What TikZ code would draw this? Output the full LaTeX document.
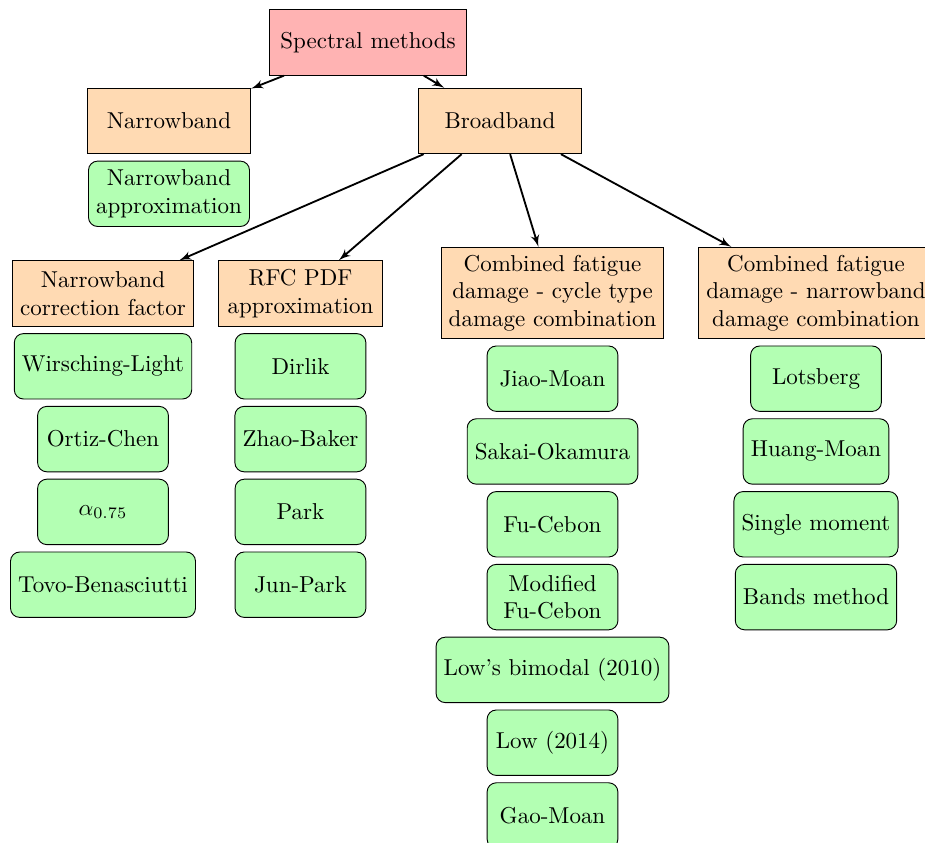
\documentclass[tikz,border=0pt]{standalone}
\usepackage{tikz}
\definecolor{rootred}{RGB}{255, 179, 179}
\definecolor{familyorange}{RGB}{255, 218, 179}
\definecolor{methodgreen}{RGB}{179, 255, 179}
\usetikzlibrary{shapes,arrows}
\tikzstyle{root} = [rectangle, draw, fill=rootred, text centered,
    minimum width=3cm, minimum height=1cm]
\tikzstyle{family} = [rectangle, draw, fill=familyorange, align=center,
    minimum width=2.5cm, minimum height=1cm]
\tikzstyle{method} = [rectangle, draw, fill=methodgreen, align=center,
    rounded corners, minimum width=2cm, minimum height=1cm]
\tikzstyle{line} = [draw, thick, -latex']

\begin{document}
\begin{tikzpicture}[x=0.435pt, y=0.435pt, node distance=1.113cm]
  \path [use as bounding box, clip] (0,0) rectangle (925,-843);
  \node [root] (spectral) at (368,-42.5) {Spectral methods};
  \node [family] (narrowband) at (169,-121) {Narrowband};
  \node [family] (broadband) at (500,-121) {Broadband};
  \path [line] (spectral) -- (narrowband);
  \path [line] (spectral) -- (broadband);
  \node [method, below of=narrowband] (nb_approx) {Narrowband\\approximation};
  % broadband families
  \node [family] (nb_correction) at (103,-293.5) {Narrowband\\correction factor};
  \node [family] (rfc_pdf) at (300.5,-293.5) {RFC PDF\\approximation};
  \node [family] (cycle_comb) at (552.5,-293) {Combined fatigue\\damage - cycle type\\damage combination};
  \node [family] (nb_comb) at (816,-293) {Combined fatigue\\damage - narrowband\\damage combination};
  \path [line] (broadband) -- (nb_correction);
  \path [line] (broadband) -- (rfc_pdf);
  \path [line] (broadband) -- (cycle_comb);
  \path [line] (broadband) -- (nb_comb);
  % narrowband correction factor
  \node [method, below of=nb_correction] (wirsching) {Wirsching-Light};
  \node [method, below of=wirsching] (ortiz_chen) {Ortiz-Chen};
  \node [method, below of=ortiz_chen] (alpha) {$\alpha_{0.75}$};
  \node [method, below of=alpha] (tovo) {Tovo-Benasciutti};
  % rfc pdf approximation
  \node [method, below of=rfc_pdf] (dirlik) {Dirlik};
  \node [method, below of=dirlik] (zhao_baker) {Zhao-Baker};
  \node [method, below of=zhao_baker] (park) {Park};
  \node [method, below of=park] (jun_park) {Jun-Park};
  % cycle type combination
  \node [method, below of=cycle_comb, node distance=1.31cm] (jiao_moan) {Jiao-Moan};
  \node [method, below of=jiao_moan] (sakai_okamura) {Sakai-Okamura};
  \node [method, below of=sakai_okamura] (fu_cebon) {Fu-Cebon};
  \node [method, below of=fu_cebon] (mod_fu_cebon) {Modified\\Fu-Cebon};
  \node [method, below of=mod_fu_cebon] (low_bimodal) {Low's bimodal (2010)};
  \node [method, below of=low_bimodal] (low_2014) {Low (2014)};
  \node [method, below of=low_2014] (gao_moan) {Gao-Moan};
  % narrowband combination
  \node [method, below of=nb_comb, node distance=1.31cm] (lotsberg) {Lotsberg};
  \node [method, below of=lotsberg] (huang_moan) {Huang-Moan};
  \node [method, below of=huang_moan] (single_moment) {Single moment};
  \node [method, below of=single_moment] (bands) {Bands method};
\end{tikzpicture}
\end{document}
